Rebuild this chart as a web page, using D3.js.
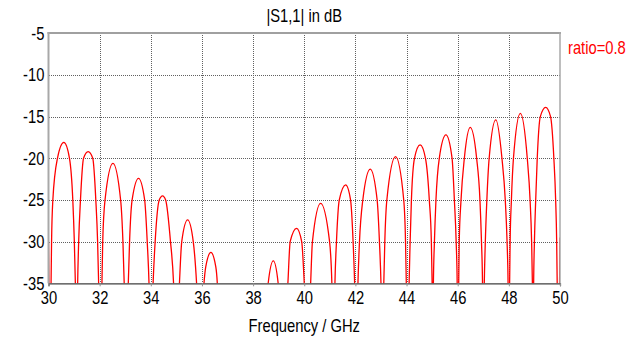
<!DOCTYPE html>
<html>
<head>
<meta charset="utf-8">
<script src="https://cdn.jsdelivr.net/npm/d3@7"></script>
<style>
  html, body { margin: 0; padding: 0; background: #fff; }
  svg text { font-family: "Liberation Sans", Arial, sans-serif; }
</style>
</head>
<body>
<svg id="chart" width="643" height="341"></svg>
<script>
// |S1,1| trace, frequency in GHz and magnitude in dB.
// Points at -45 dB mark the nulls, which fall below the -35 dB floor of the plot.
const freqGHz = [
  30.00, 30.07,
  30.10, 30.12, 30.17, 30.35, 30.60, 30.82, 30.95, 31.01, 31.05, 31.10,
  31.14, 31.18, 31.25, 31.37, 31.55, 31.73, 31.85, 31.92, 31.96, 32.03,
  32.09, 32.12, 32.21, 32.52, 32.82, 32.91, 32.96, 33.04,
  33.12, 33.17, 33.27, 33.52, 33.76, 33.86, 33.93, 34.00,
  34.09, 34.17, 34.33, 34.46, 34.58, 34.77, 34.89, 34.99,
  35.12, 35.21, 35.44, 35.66, 35.79, 35.93,
  36.08, 36.15, 36.35, 36.54, 36.60, 36.70,
  38.50,
  38.59, 38.79, 38.98, 39.17,
  39.36, 39.45, 39.70, 39.90, 40.00, 40.13,
  40.25, 40.32, 40.64, 40.99, 41.08, 41.15,
  41.20, 41.26, 41.37, 41.62, 41.81, 41.91, 41.97, 42.04,
  42.10, 42.16, 42.29, 42.58, 42.85, 42.94, 43.00, 43.06,
  43.11, 43.15, 43.23, 43.57, 43.89, 43.96, 43.99, 44.05,
  44.10, 44.14, 44.19, 44.31, 44.53, 44.74, 44.89, 44.97, 45.00, 45.03,
  45.05, 45.09, 45.15, 45.28, 45.54, 45.78, 45.87, 45.94, 45.98, 46.01,
  46.04, 46.06, 46.13, 46.26, 46.49, 46.74, 46.87, 46.93, 46.97, 47.00,
  47.04, 47.08, 47.14, 47.23, 47.49, 47.73, 47.86, 47.93, 47.97, 48.00,
  48.03, 48.05, 48.10, 48.18, 48.45, 48.72, 48.83, 48.89, 48.92, 48.95,
  48.97, 49.00, 49.05, 49.11, 49.23, 49.44, 49.63, 49.76, 49.83, 49.87, 49.89, 49.93,
  50.00
];
const s11dB = [
  -30.0, -45,
  -35, -30, -25, -20, -18.1, -20, -25, -30, -35, -45,
  -35, -30, -25, -20, -19.2, -20, -25, -30, -35, -45,
  -35, -30, -25, -20.6, -25, -30, -35, -45,
  -35, -30, -25, -22.4, -25, -30, -35, -45,
  -35, -30, -25, -24.5, -25, -30, -35, -45,
  -35, -30, -27.4, -30, -35, -45,
  -35, -33, -31.3, -33, -35, -45,
  -45,
  -35, -32.3, -35, -45,
  -35, -30, -28.4, -30, -35, -45,
  -35, -30, -25.4, -30, -35, -45,
  -35, -30, -25, -23.2, -25, -30, -35, -45,
  -35, -30, -25, -21.3, -25, -30, -35, -45,
  -35, -30, -25, -19.8, -25, -30, -35, -45,
  -35, -30, -25, -20, -18.4, -20, -25, -30, -35, -45,
  -35, -30, -25, -20, -17.2, -20, -25, -30, -35, -45,
  -35, -30, -25, -20, -16.3, -20, -25, -30, -35, -45,
  -35, -30, -25, -20, -15.4, -20, -25, -30, -35, -45,
  -35, -30, -25, -20, -14.6, -20, -25, -30, -35, -45,
  -35, -30, -25, -20, -15, -13.9, -15, -20, -25, -30, -35, -45,
  -29.5
];

const xTicks = [30, 32, 34, 36, 38, 40, 42, 44, 46, 48, 50];
const yTicks = [-35, -30, -25, -20, -15, -10, -5];
const titleText = "|S1,1| in dB";
const xLabelText = "Frequency / GHz";
const legendText = "ratio=0.8";

const svg = d3.select("#chart");
const plot = { left: 48.5, right: 560, top: 33.3, bottom: 283.3 };
const FONT_SIZE = 18;
const NARROW = "scale(0.82,1)";   // narrow face look

const x = d3.scaleLinear().domain([30, 50]).range([plot.left, plot.right]);
const y = d3.scaleLinear().domain([-35, -5]).range([plot.bottom, plot.top]);

// dotted grid
const grid = svg.append("g").attr("stroke", "#606060").attr("stroke-width", 1)
  .attr("stroke-dasharray", "1,1").attr("shape-rendering", "crispEdges");
grid.selectAll("line.v").data(xTicks.filter(d => d > 30 && d < 50)).join("line")
  .attr("class", "v")
  .attr("x1", d => Math.round(x(d)) + 0.5).attr("x2", d => Math.round(x(d)) + 0.5)
  .attr("y1", plot.top).attr("y2", plot.bottom);
grid.selectAll("line.h").data(yTicks.filter(d => d > -35 && d < -5)).join("line")
  .attr("class", "h")
  .attr("y1", d => Math.round(y(d)) + 0.5).attr("y2", d => Math.round(y(d)) + 0.5)
  .attr("x1", plot.left).attr("x2", plot.right);

// trace, clipped to the plot frame
svg.append("clipPath").attr("id", "plotClip").append("rect")
  .attr("x", plot.left).attr("y", plot.top)
  .attr("width", plot.right - plot.left).attr("height", plot.bottom - plot.top);

const line = d3.line()
  .x(i => x(freqGHz[i]))
  .y(i => y(s11dB[i]))
  .curve(d3.curveMonotoneX);

svg.append("path")
  .attr("clip-path", "url(#plotClip)")
  .attr("d", line(d3.range(freqGHz.length)))
  .attr("fill", "none")
  .attr("stroke", "#ff0000")
  .attr("stroke-width", 1.3);

// frame
svg.append("line").attr("x1", plot.left - 1).attr("x2", plot.right + 1)
  .attr("y1", 33).attr("y2", 33).attr("stroke", "#a0a0a0").attr("stroke-width", 2);
svg.append("line").attr("x1", plot.left).attr("x2", plot.left)
  .attr("y1", 32).attr("y2", plot.bottom).attr("stroke", "#a8a8a8").attr("stroke-width", 2);
svg.append("line").attr("x1", plot.right).attr("x2", plot.right)
  .attr("y1", 32).attr("y2", plot.bottom).attr("stroke", "#a8a8a8").attr("stroke-width", 1.5);

// axes
const fmt = d => String(d);
const xAxis = d3.axisBottom(x).tickValues(xTicks).tickSize(3).tickPadding(5).tickFormat(fmt);
const gx = svg.append("g").attr("transform", `translate(0,${plot.bottom})`).call(xAxis);
gx.select(".domain").attr("stroke", "#404040").attr("stroke-width", 1.2);
gx.selectAll(".tick line").attr("stroke", "#909090");
gx.selectAll(".tick text").attr("font-size", FONT_SIZE).attr("fill", "#000")
  .attr("font-family", null).attr("transform", NARROW);

const yAxis = d3.axisLeft(y).tickValues(yTicks).tickSize(0).tickPadding(5).tickFormat(fmt);
const gy = svg.append("g").attr("transform", `translate(${plot.left},0)`).call(yAxis);
gy.select(".domain").remove();
gy.selectAll(".tick text").attr("font-size", FONT_SIZE).attr("fill", "#000")
  .attr("font-family", null).attr("transform", NARROW);

// titles
function label(px, py, txt, anchor, color) {
  svg.append("g").attr("transform", `translate(${px},${py}) ${NARROW}`)
    .append("text").attr("text-anchor", anchor).attr("font-size", FONT_SIZE)
    .attr("fill", color).text(txt);
}
label((plot.left + plot.right) / 2, 22, titleText, "middle", "#000");
label((plot.left + plot.right) / 2, 332, xLabelText, "middle", "#000");
label(568, 54, legendText, "start", "#ff0000");
</script>
</body>
</html>
